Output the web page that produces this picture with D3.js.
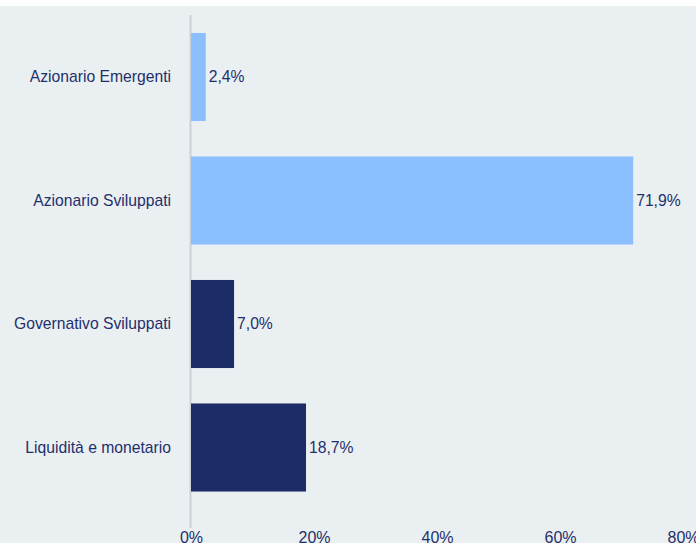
<!DOCTYPE html>
<html><head><meta charset="utf-8">
<script src="https://cdn.jsdelivr.net/npm/d3@7"></script>
<style>body{margin:0;background:#fff;}svg{display:block;}</style>
</head><body>
<script>
const categories = ["Azionario Emergenti","Azionario Sviluppati","Governativo Sviluppati","Liquidità e monetario"];
const values = [2.4, 71.9, 7.0, 18.7];
const colors = ["#8cbfff","#8cbfff","#1b2c66","#1b2c66"];
const ticks = [0,20,40,60,80];

const W=696,H=543;
const svg=d3.select("body").append("svg").attr("width",W).attr("height",H);
svg.append("rect").attr("x",0).attr("y",6).attr("width",W).attr("height",H-6).attr("fill","#eaeff2");

const x=d3.scaleLinear().domain([0,80]).range([191,683]);
const y=d3.scaleBand().domain(categories).range([15.25,509.25]).paddingInner(0.287).paddingOuter(0.1435);
const fmt=v=>v.toFixed(1).replace(".",",")+"%";
const font="Liberation Sans, Arial, sans-serif";
const txt="#1f2f6b";

svg.append("line").attr("x1",190.5).attr("x2",190.5).attr("y1",15).attr("y2",528).attr("stroke","#cdd2d6").attr("stroke-width",2);

svg.selectAll("rect.bar").data(values).enter().append("rect").attr("class","bar")
 .attr("x",x(0)).attr("y",(d,i)=>y(categories[i])).attr("width",d=>x(d)-x(0)).attr("height",y.bandwidth())
 .attr("fill",(d,i)=>colors[i]);

svg.selectAll("text.val").data(values).enter().append("text").attr("class","val")
 .attr("x",d=>x(d)+3).attr("y",(d,i)=>y(categories[i])+y.bandwidth()/2).attr("dy","0.35em")
 .attr("font-family",font).attr("font-size",15.7).attr("fill",txt).text(d=>fmt(d));

svg.selectAll("text.cat").data(categories).enter().append("text").attr("class","cat")
 .attr("x",171).attr("y",d=>y(d)+y.bandwidth()/2).attr("dy","0.35em").attr("text-anchor","end")
 .attr("font-family",font).attr("font-size",15.7).attr("fill",txt).text(d=>d);

const ax=d3.axisBottom(x).tickValues(ticks).tickSize(0).tickFormat(d=>d+"%");
const g=svg.append("g").attr("transform","translate(0,529)").call(ax);
g.select(".domain").remove();
g.selectAll("text").attr("font-family",font).attr("font-size",16).attr("fill",txt).attr("dy","0.71em");
</script>
</body></html>
